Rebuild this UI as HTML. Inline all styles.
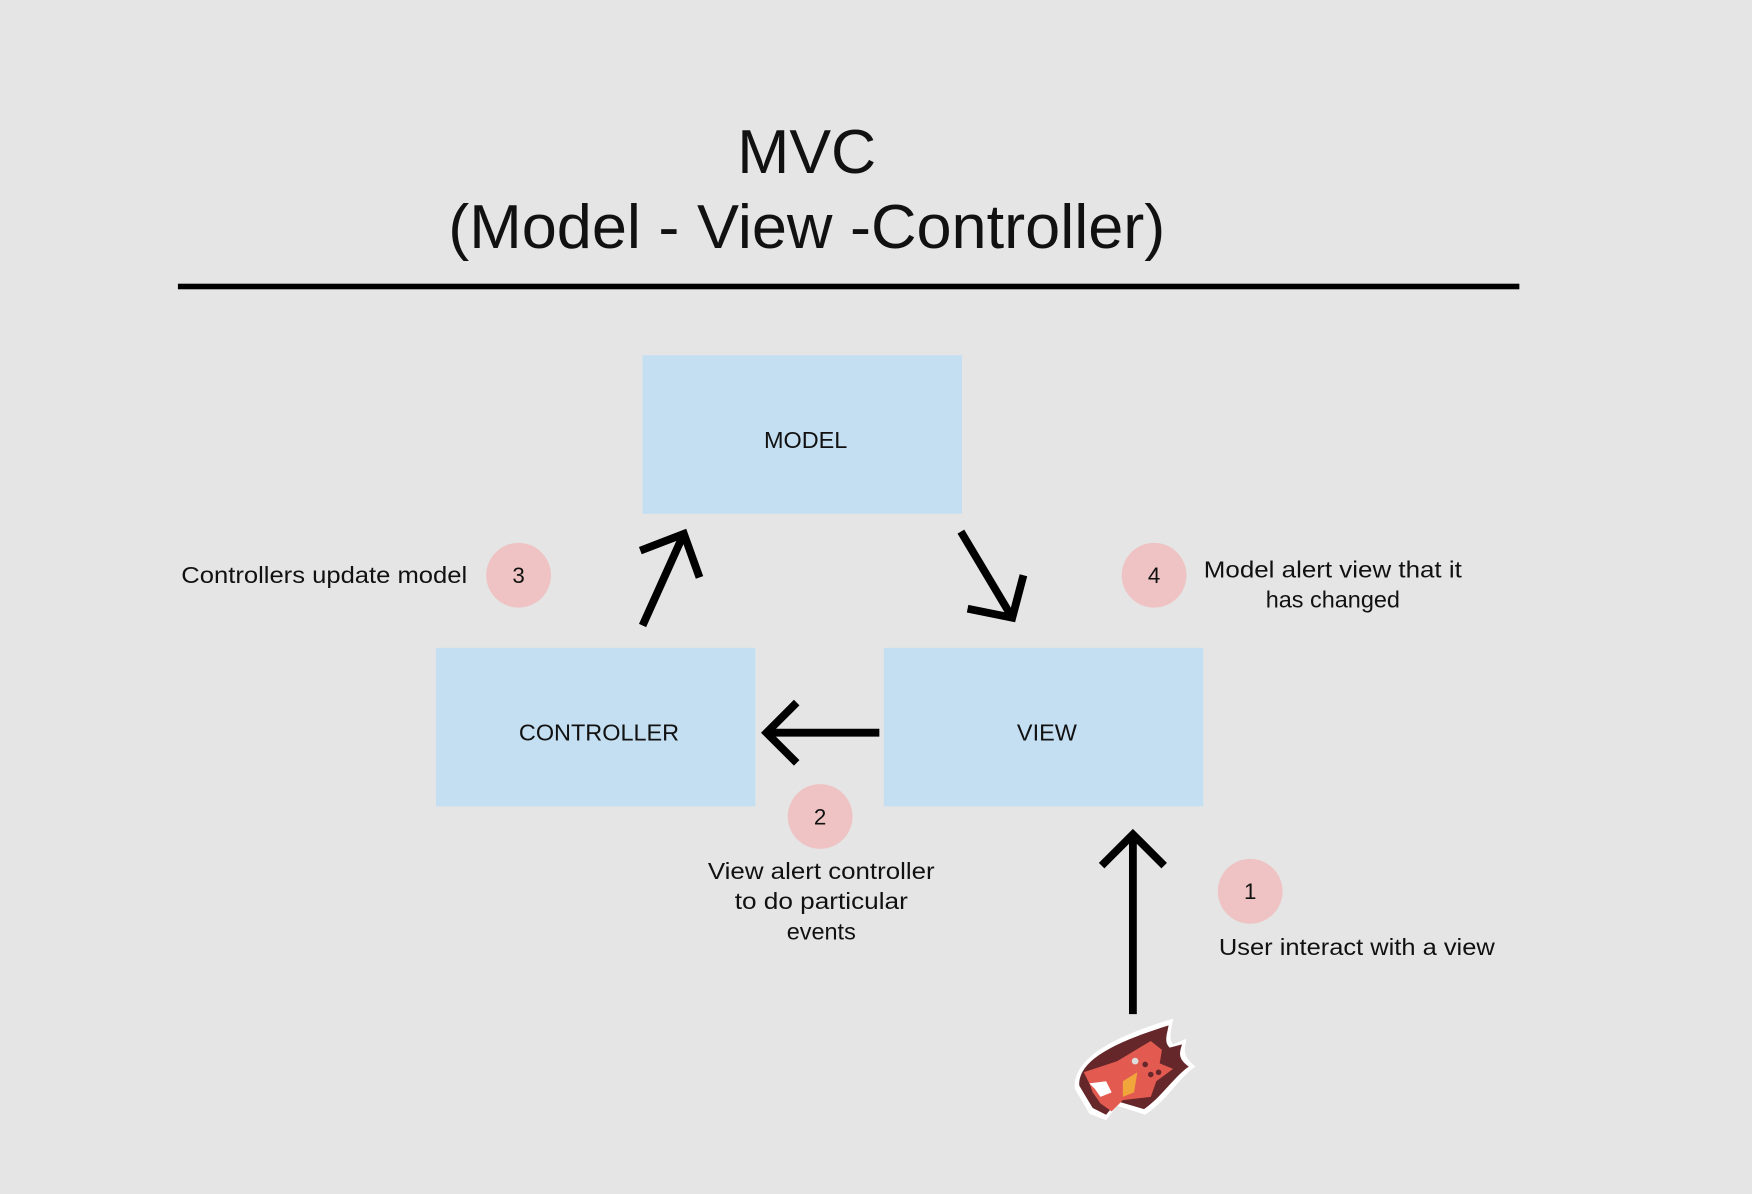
<!DOCTYPE html>
<html><head><meta charset="utf-8"><style>
html,body{margin:0;padding:0;background:#e5e5e5;}
svg{display:block;}
text{font-family:"Liberation Sans",sans-serif;fill:#111;}
</style></head><body>
<svg width="1752" height="1194" viewBox="0 0 1568 1069" xmlns="http://www.w3.org/2000/svg">
<rect width="1568" height="1069" fill="#e5e5e5"/>
<text x="722" y="155" font-size="56" text-anchor="middle">MVC</text>
<text x="722" y="222" font-size="56" text-anchor="middle" textLength="642" lengthAdjust="spacingAndGlyphs">(Model - View -Controller)</text>
<rect x="159" y="254" width="1201" height="5" fill="#000"/>
<rect x="575" y="318" width="286" height="142" fill="#c5dff2"/>
<rect x="390" y="580" width="286" height="142" fill="#c5dff2"/>
<rect x="791" y="580" width="286" height="142" fill="#c5dff2"/>
<text x="721" y="401" font-size="21" text-anchor="middle">MODEL</text>
<text x="536" y="663" font-size="21" text-anchor="middle">CONTROLLER</text>
<text x="937" y="663" font-size="21" text-anchor="middle">VIEW</text>
<g fill="#efc3c3">
<circle cx="464" cy="515" r="29"/><circle cx="1033" cy="515" r="29"/>
<circle cx="734" cy="731" r="29"/><circle cx="1119" cy="798" r="29"/>
</g>
<g font-size="20" text-anchor="middle">
<text x="464" y="522">3</text><text x="1033" y="522">4</text>
<text x="734" y="738">2</text><text x="1119" y="805">1</text>
</g>
<g font-size="21">
<text x="162" y="522" textLength="256" lengthAdjust="spacingAndGlyphs">Controllers update model</text>
<text x="1193" y="517" text-anchor="middle" textLength="231" lengthAdjust="spacingAndGlyphs">Model alert view that it</text>
<text x="1193" y="544" text-anchor="middle">has changed</text>
<text x="735" y="787" text-anchor="middle" textLength="203" lengthAdjust="spacingAndGlyphs">View alert controller</text>
<text x="735" y="814" text-anchor="middle" textLength="155" lengthAdjust="spacingAndGlyphs">to do particular</text>
<text x="735" y="841" text-anchor="middle">events</text>
<text x="1091" y="855" textLength="247" lengthAdjust="spacingAndGlyphs">User interact with a view</text>
</g>
<g stroke="#000" stroke-width="7" fill="none" stroke-linecap="butt">
<line x1="575" y1="560" x2="611" y2="480"/>
<polyline points="573,493 612,478 626,517"/>
<line x1="860" y1="476" x2="906" y2="553"/>
<polyline points="866,545 906,553 916,515"/>
<line x1="787" y1="656" x2="686" y2="656"/>
<polyline points="713,629 686,656 713,683"/>
<line x1="1014" y1="908" x2="1014" y2="748"/>
<polyline points="986,775 1014,747 1042,775"/>
</g>
<g>
<path d="M962,975 C960,950 990,930 1050,912 C1048,925 1046,930 1050,935 L1062,930 C1060,940 1058,945 1070,955 C1055,965 1045,985 1025,998 L1000,990 L990,1003 L975,997 L968,985 Z" fill="#fff"/>
<path d="M966,972 C965,950 995,934 1046,918 C1044,928 1042,933 1047,938 L1058,935 C1055,944 1055,948 1064,955 C1050,965 1040,982 1024,993 L1000,986 L990,998 L978,992 L972,982 Z" fill="#65272a"/>
<path d="M970,960 L1000,950 L1030,932 L1040,940 L1038,952 L1050,957 L1035,968 L1030,982 L1005,985 L995,995 L985,988 L978,978 L975,970 Z" fill="#e25a50"/>
<path d="M1005,968 L1018,960 L1015,978 L1005,982 Z" fill="#f0a63a"/>
<path d="M975,970 L990,968 L995,978 L985,982 L980,975 Z" fill="#fff"/>
<circle cx="1025" cy="953" r="2.5" fill="#65272a"/><circle cx="1030" cy="962" r="2.5" fill="#65272a"/><circle cx="1037" cy="960" r="2.5" fill="#65272a"/>
<circle cx="1016" cy="950" r="3" fill="#ddd"/>
</g>
</svg>
</body></html>
